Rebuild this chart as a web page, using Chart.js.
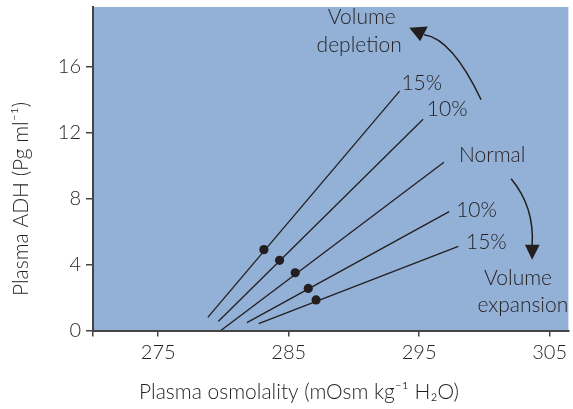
<!DOCTYPE html>
<html><head><meta charset="utf-8">
<script src="https://cdn.jsdelivr.net/npm/chart.js@4"></script>
<style>html,body{margin:0;padding:0;background:#fff}#w{width:573px;height:409px}</style>
</head><body><div id="w"><canvas id="c" width="573" height="409"></canvas></div>
<script>
const lineNames = ['Depletion 15%', 'Depletion 10%', 'Normal', 'Expansion 10%', 'Expansion 15%'];
const lineStartX = [278.8, 279.6, 279.8, 281.8, 282.7];
const lineStartY = [0.8, 0.55, 0, 0.48, 0.42];
const lineEndX = [293.5, 295.3, 296.9, 297.3, 298.0];
const lineEndY = [14.5, 12.8, 10.2, 7.2, 5.1];
const dotX = [283.1, 284.3, 285.5, 286.5, 287.1];
const dotY = [4.9, 4.25, 3.5, 2.55, 1.85];
const lineLabels = ['15%', '10%', 'Normal', '10%', '15%'];
const xTicks = [275, 285, 295, 305];
const yTicks = [0, 4, 8, 12, 16];
const xTitle = 'Plasma osmolality (mOsm kg\u207B\u00B9 H\u2082O)';
const yTitle = 'Plasma ADH (Pg ml\u207B\u00B9)';

const INK = '#231f20';
const FONT = 'Lato, "Open Sans", sans-serif';

const datasets = lineNames.map((n, i) => ({
  type: 'scatter', label: n, showLine: true,
  data: [{x: lineStartX[i], y: lineStartY[i]}, {x: lineEndX[i], y: lineEndY[i]}],
  borderColor: INK, borderWidth: 1.3, pointRadius: 0
}));
datasets.push({
  type: 'scatter', label: 'Points',
  data: dotX.map((x, i) => ({x, y: dotY[i]})),
  backgroundColor: INK, borderColor: INK, pointRadius: 4.6, pointBorderWidth: 0
});

const deco = {
  id: 'deco',
  beforeDraw(chart) {
    const {ctx, chartArea: a} = chart;
    ctx.save();
    ctx.fillStyle = '#93b1d6';
    ctx.fillRect(a.left, a.top, a.right - a.left, a.bottom - a.top);
    ctx.restore();
  },
  afterDraw(chart) {
    const {ctx, scales: {x, y}} = chart;
    const P = (dx, dy) => [x.getPixelForValue(dx), y.getPixelForValue(dy)];
    ctx.save();
    ctx.fillStyle = INK;
    ctx.strokeStyle = INK;
    ctx.font = '300 21px ' + FONT;
    ctx.textAlign = 'center';
    ctx.textBaseline = 'middle';
    const labelPos = [[295.2, 15.0], [297.15, 13.43], [300.6, 10.6], [299.4, 7.3], [300.15, 5.35]];
    lineLabels.forEach((t, i) => { const p = P(labelPos[i][0], labelPos[i][1]); ctx.fillText(t, p[0], p[1]); });
    let p = P(290.6, 19.0); ctx.fillText('Volume', p[0], p[1]);
    p = P(290.4, 17.3); ctx.fillText('depletion', p[0], p[1]);
    p = P(302.58, 3.19); ctx.fillText('Volume', p[0], p[1]);
    p = P(302.95, 1.56); ctx.fillText('expansion', p[0], p[1]);
    function arrow(p0, c, p2, tip, b1, b2) {
      const A = P(...p0), C = P(...c), B = P(...p2);
      ctx.lineWidth = 1.5;
      ctx.beginPath(); ctx.moveTo(A[0], A[1]); ctx.quadraticCurveTo(C[0], C[1], B[0], B[1]); ctx.stroke();
      const T = P(...tip), U = P(...b1), V = P(...b2);
      ctx.beginPath(); ctx.moveTo(T[0], T[1]); ctx.lineTo(U[0], U[1]); ctx.lineTo(V[0], V[1]); ctx.closePath(); ctx.fill();
    }
    arrow([299.75, 13.98], [297.53, 17.68], [295.38, 17.92], [294.24, 18.35], [295.66, 18.42], [295.08, 17.52]);
    arrow([302.05, 9.19], [303.86, 7.47], [303.66, 5.13], [303.66, 4.28], [303.11, 5.19], [304.24, 5.19]);
    ctx.fillStyle = INK;
    ctx.font = '300 21px ' + FONT;
    ctx.fillText(xTitle, 299, 392);
    ctx.translate(21, 199);
    ctx.rotate(-Math.PI / 2);
    ctx.fillText(yTitle, 0, 0);
    ctx.restore();
  }
};

new Chart(document.getElementById('c'), {
  type: 'scatter',
  data: {datasets},
  plugins: [deco],
  options: {
    responsive: false, animation: false,
    layout: {padding: {top: 7, right: 0, left: 0, bottom: 0}},
    plugins: {legend: {display: false}, tooltip: {enabled: false}},
    scales: {
      x: {
        type: 'linear', min: 270, max: 306.44,
        afterBuildTicks: s => { s.ticks = [{value: 270}].concat(xTicks.map(v => ({value: v}))); },
        ticks: {color: INK, font: {family: FONT, size: 20, weight: '300'}, padding: 4,
          callback: v => (xTicks.includes(v) ? String(v) : '')},
        grid: {display: true, drawOnChartArea: false, drawTicks: true, tickLength: 6, color: '#444', lineWidth: 1.5},
        border: {display: true, color: '#444', width: 2},
        afterFit: s => { s.height = 78.5; s.paddingLeft = 0; s.paddingRight = 0; }
      },
      y: {
        type: 'linear', min: 0, max: 19.6,
        afterBuildTicks: s => { s.ticks = yTicks.map(v => ({value: v})); },
        ticks: {color: INK, font: {family: FONT, size: 20, weight: '300'}, padding: 5},
        grid: {display: true, drawOnChartArea: false, drawTicks: true, tickLength: 7, color: '#444', lineWidth: 1.5},
        border: {display: true, color: '#444', width: 2},
        afterFit: s => { s.width = 93; s.paddingTop = 0; s.paddingBottom = 0; }
      }
    }
  }
});
</script>
</body></html>
